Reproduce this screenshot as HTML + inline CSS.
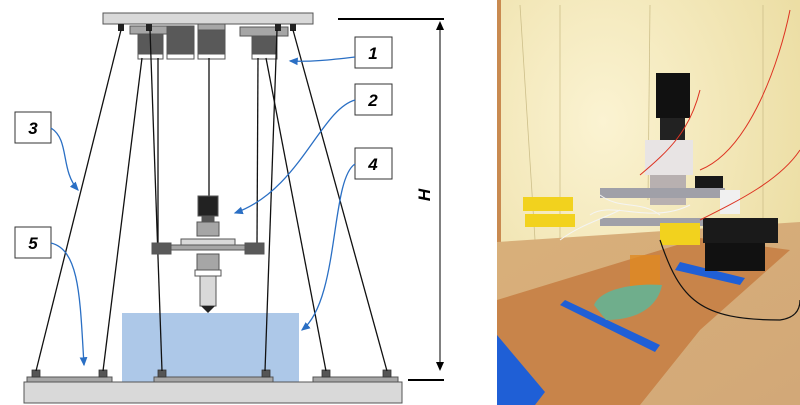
<!DOCTYPE html>
<html><head><meta charset="utf-8"><style>
html,body{margin:0;padding:0;background:#fff;}
svg{display:block;}
</style></head><body>
<svg width="800" height="405" viewBox="0 0 800 405" xmlns="http://www.w3.org/2000/svg">
<defs>
<marker id="ab" markerWidth="8" markerHeight="8" refX="6" refY="4" orient="auto"><path d="M0,1 L7,4 L0,7 Z" fill="#2a6fc4"/></marker>
<marker id="ak" markerWidth="10" markerHeight="10" refX="8" refY="5" orient="auto"><path d="M0,1 L9,5 L0,9 Z" fill="#000"/></marker>
<radialGradient id="wall" cx="0.35" cy="0.3" r="0.8"><stop offset="0" stop-color="#fbf3d2"/><stop offset="1" stop-color="#eadb9e"/></radialGradient>
<linearGradient id="wood" x1="0" y1="0" x2="1" y2="1"><stop offset="0" stop-color="#d9b07a"/><stop offset="1" stop-color="#d2a878"/></linearGradient>
</defs>
<rect x="122" y="313" width="177" height="69" fill="#adc8e8"/>
<rect x="24" y="382" width="378" height="21" fill="#d9d9d9" stroke="#555" stroke-width="1"/>
<rect x="27" y="377" width="85" height="5" fill="#a6a6a6" stroke="#555" stroke-width="1"/>
<rect x="154" y="377" width="119" height="5" fill="#a6a6a6" stroke="#555" stroke-width="1"/>
<rect x="313" y="377" width="85" height="5" fill="#a6a6a6" stroke="#555" stroke-width="1"/>
<g fill="#555" stroke="#333" stroke-width="0.8">
<rect x="32" y="370" width="8" height="7"/><rect x="99" y="370" width="8" height="7"/>
<rect x="158" y="370" width="8" height="7"/><rect x="262" y="370" width="8" height="7"/>
<rect x="322" y="370" width="8" height="7"/><rect x="383" y="370" width="8" height="7"/>
</g>
<rect x="103" y="13" width="210" height="11" fill="#d9d9d9" stroke="#555" stroke-width="1"/>
<g stroke="#555" stroke-width="1">
<rect x="130" y="26" width="48" height="8" fill="#a6a6a6"/>
<rect x="138" y="34" width="25" height="24" fill="#595959"/>
<rect x="167" y="26" width="27" height="32" fill="#595959"/>
<rect x="198" y="26" width="27" height="32" fill="#595959"/>
<rect x="198" y="24" width="27" height="6" fill="#a6a6a6"/>
<rect x="240" y="27" width="48" height="9" fill="#a6a6a6"/>
<rect x="252" y="36" width="25" height="22" fill="#595959"/>
<rect x="138" y="54" width="25" height="5" fill="#fff"/>
<rect x="167" y="54" width="27" height="5" fill="#fff"/>
<rect x="198" y="54" width="27" height="5" fill="#fff"/>
<rect x="252" y="54" width="25" height="5" fill="#fff"/>
</g>
<g fill="#222"><rect x="118" y="24" width="6" height="7"/><rect x="146" y="24" width="6" height="7"/><rect x="275" y="24" width="6" height="7"/><rect x="290" y="24" width="6" height="7"/></g>
<g stroke="#111" stroke-width="1.3" fill="none">
<line x1="121" y1="30" x2="36" y2="371"/>
<line x1="142" y1="58" x2="103" y2="371"/>
<line x1="150" y1="30" x2="162" y2="371"/>
<line x1="158" y1="58" x2="158" y2="245"/>
<line x1="209" y1="58" x2="209" y2="196"/>
<line x1="258" y1="58" x2="257" y2="245"/>
<line x1="277" y1="30" x2="265" y2="371"/>
<line x1="266" y1="58" x2="326" y2="371"/>
<line x1="293" y1="30" x2="387" y2="371"/>
</g>
<g stroke="#555" stroke-width="1">
<rect x="198" y="196" width="20" height="20" fill="#222"/>
<rect x="202" y="216" width="12" height="6" fill="#555"/>
<rect x="197" y="222" width="22" height="14" fill="#a6a6a6"/>
<rect x="181" y="239" width="54" height="6" fill="#d9d9d9"/>
<rect x="160" y="245" width="96" height="5" fill="#a6a6a6"/>
<rect x="152" y="243" width="19" height="11" fill="#595959"/>
<rect x="245" y="243" width="19" height="11" fill="#595959"/>
<rect x="197" y="254" width="22" height="16" fill="#a6a6a6"/>
<rect x="195" y="270" width="26" height="6" fill="#fff"/>
<rect x="200" y="276" width="16" height="30" fill="#d9d9d9"/>
</g>
<path d="M201,306 L215,306 L208,313 Z" fill="#222"/>
<g font-family="Liberation Sans, sans-serif" font-size="17" font-weight="bold" font-style="italic" text-anchor="middle">
<rect x="355" y="37" width="37" height="31" fill="#fff" stroke="#333"/><text x="373" y="59">1</text>
<rect x="355" y="84" width="37" height="31" fill="#fff" stroke="#333"/><text x="373" y="106">2</text>
<rect x="355" y="148" width="37" height="31" fill="#fff" stroke="#333"/><text x="373" y="170">4</text>
<rect x="15" y="112" width="36" height="31" fill="#fff" stroke="#333"/><text x="33" y="134">3</text>
<rect x="15" y="227" width="36" height="31" fill="#fff" stroke="#333"/><text x="33" y="249">5</text>
</g>
<g stroke="#2a6fc4" stroke-width="1.3" fill="none" marker-end="url(#ab)">
<path d="M355,57 C330,60 310,62 290,61"/>
<path d="M355,100 C320,110 300,190 235,213"/>
<path d="M355,164 C330,180 340,300 302,330"/>
<path d="M51,128 C70,140 60,170 78,190"/>
<path d="M51,243 C80,250 80,300 84,365"/>
</g>
<line x1="338" y1="19" x2="444" y2="19" stroke="#000" stroke-width="2"/>
<line x1="408" y1="380" x2="444" y2="380" stroke="#000" stroke-width="2"/>
<line x1="440" y1="30" x2="440" y2="370" stroke="#000" stroke-width="1" marker-end="url(#ak)"/>
<line x1="440" y1="360" x2="440" y2="22" stroke="#000" stroke-width="1" marker-end="url(#ak)"/>
<text x="430" y="195" font-family="Liberation Sans, sans-serif" font-size="17" font-weight="bold" font-style="italic" transform="rotate(-90 430 195)" text-anchor="middle">H</text>
<!-- photo -->
<rect x="497" y="0" width="303" height="405" fill="url(#wall)"/>
<rect x="497" y="0" width="4" height="245" fill="#c98a50"/>
<g stroke="#cdbf8a" stroke-width="0.8"><line x1="520" y1="5" x2="535" y2="240"/><line x1="560" y1="5" x2="560" y2="240"/><line x1="650" y1="5" x2="648" y2="200"/><line x1="763" y1="5" x2="763" y2="240"/></g>
<polygon points="497,242 800,222 800,405 497,405" fill="url(#wood)"/>
<polygon points="497,300 700,238 790,250 700,330 640,405 497,405" fill="#c8844a"/>
<polygon points="497,335 545,392 535,405 497,405" fill="#1f5fd6"/>
<polygon points="560,305 565,300 660,345 655,352" fill="#1f5fd6"/>
<polygon points="680,262 745,278 740,285 675,270" fill="#1f5fd6"/>
<rect x="656" y="73" width="34" height="45" fill="#111"/>
<rect x="660" y="118" width="25" height="22" fill="#222"/>
<rect x="645" y="140" width="48" height="35" fill="#e8e4e4"/>
<rect x="650" y="175" width="36" height="30" fill="#b8b0b0"/>
<rect x="600" y="188" width="125" height="10" fill="#a0a0a8"/>
<rect x="600" y="218" width="110" height="8" fill="#a0a0a8"/>
<g stroke="#f4f4f4" stroke-width="1" fill="none"><path d="M600,195 C620,210 640,200 660,215"/><path d="M590,215 C610,200 650,225 690,205"/><path d="M560,240 C580,225 600,220 620,210"/></g>
<rect x="523" y="197" width="50" height="14" fill="#f2d21e"/>
<rect x="525" y="214" width="50" height="13" fill="#f2d21e"/>
<rect x="660" y="223" width="40" height="22" fill="#f2d21e"/>
<rect x="720" y="190" width="20" height="24" fill="#f0f0f0"/>
<rect x="703" y="218" width="75" height="25" fill="#1a1a1a"/>
<rect x="705" y="243" width="60" height="28" fill="#111"/>
<rect x="695" y="176" width="28" height="12" fill="#181818"/>
<rect x="630" y="255" width="30" height="35" fill="#e08a20" opacity="0.8"/>
<path d="M594,305 C600,290 630,283 662,285 C658,305 640,320 606,320 Z" fill="#6fae8c"/>
<g stroke="#d32" stroke-width="1" fill="none"><path d="M640,175 C670,150 690,130 700,90"/><path d="M700,220 C740,200 780,180 800,150"/><path d="M700,170 C750,150 780,60 790,10"/></g>
<path d="M660,240 C680,300 700,320 780,320 C795,318 800,310 800,300" stroke="#111" stroke-width="1.2" fill="none"/>
</svg>
</body></html>
